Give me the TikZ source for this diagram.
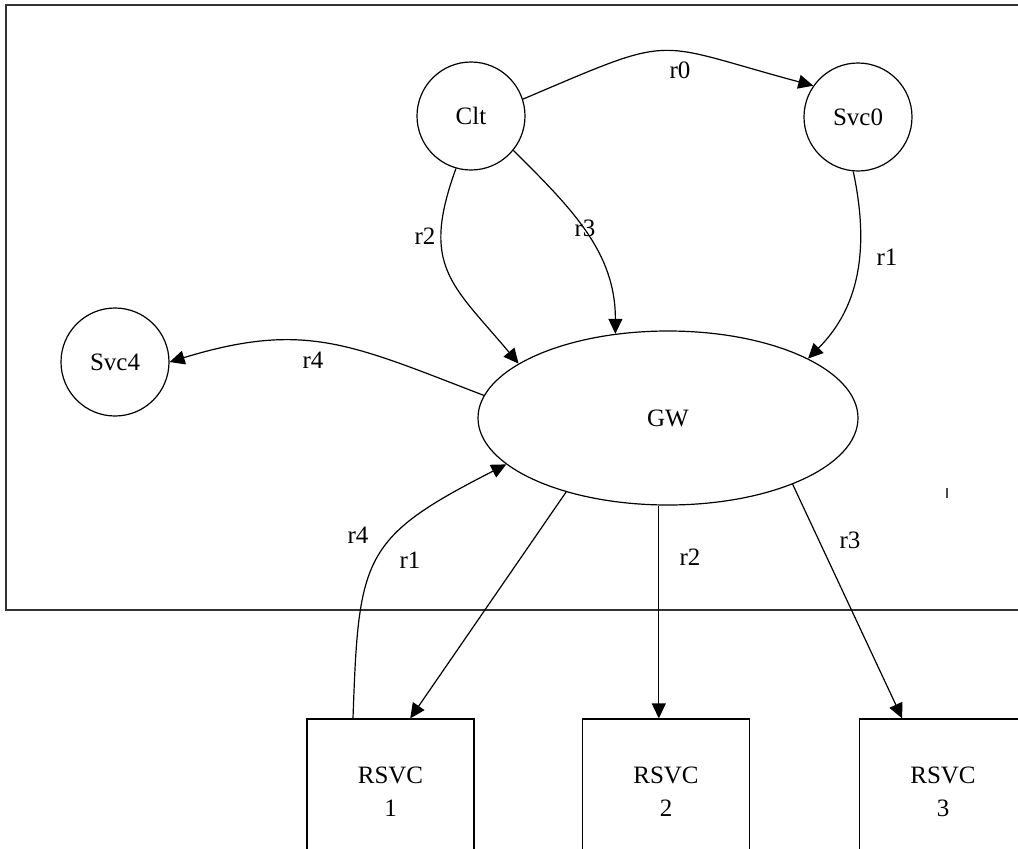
\documentclass[tikz,border=0pt]{standalone}
\usepackage{fontspec}
\setmainfont{Liberation Serif}
\usepackage{tikz}
\usetikzlibrary{shapes.geometric,arrows.meta}
\tikzstyle{service} = 
[
	circle, 
	minimum size = 108pt, 
	inner sep = 0pt, 
	text centered, 
	draw=black, 
	line width=1.2pt
]
\tikzstyle{gateway} = 
	[
		ellipse, 
		minimum width=380pt, 
		minimum height=174pt, 
		text centered,
		draw=black, 
		line width=1.2pt
	]
\tikzstyle{backend} = 
	[
		rectangle, 
		minimum width=167pt, 
		minimum height=146pt, 
		align=center,
		draw=black, 
		line width=1.2pt
	]
\tikzstyle{lbl} = [inner sep=0pt]
\tikzstyle{arrow} = [line width=1.2pt,-{Triangle[length=15pt,width=14pt]}]

\begin{document}
\begin{tikzpicture}[x=1pt,y=1pt,font=\fontsize{25}{33}\selectfont]
	\useasboundingbox (0,0) rectangle (1018,-849);
	\clip (0,0) rectangle (1018,-849);

	% frame
	\draw [line width=2.2pt, black!80] (1030,-5) -- (6,-5) -- (6,-610) -- (1030,-610);
	\draw [line width=1.5pt, black!70] (947,-488) -- (947,-498);

	\node
	(Clt)
	[service]
	at (471,-116)
	{Clt};

	\node
	(Svc0)
	[service]
	at (858,-117)
	{Svc0};

	\node
	(Svc4)
	[service]
	at (115,-362)
	{Svc4};

	\node
	(GW)
	[gateway]
	at (668,-418)
	{GW};

	\node
	(RSVC1)
	[backend]
	at (390.5,-792)
	{RSVC\\1};

	\node
	(RSVC2)
	[backend]
	at (666,-792)
	{RSVC\\2};

	\node
	(RSVC3)
	[backend]
	at (943,-792)
	{RSVC\\3};

	\draw [arrow] (Clt.18) to [out=23, in=165, looseness=1.5] (Svc0.145)
		node [lbl] at (680,-70) {r0};
	\draw [arrow] (Svc0.-95) to [out=-78, in=45] (GW.23.2)
		node [lbl] at (887,-257) {r1};
	\draw [arrow] (Clt.-106) to [out=-110, in=130, looseness=1.3] (GW.160.9)
		node [lbl] at (425,-236) {r2};
	\draw [arrow] (Clt.-39) to [out=-45, in=90] (GW.122.6)
		node [lbl] at (585,-228) {r3};
	\draw [arrow] (GW.173.8) to [out=159, in=17, looseness=1.15] (Svc4.east)
		node [lbl] at (313,-360) {r4};
	\draw [arrow] (RSVC1.117.2) to [out=88, in=-153, looseness=1.4] (GW.196.5)
		node [lbl] at (358,-535) {r4};
	\draw [arrow] (GW.-144.3) -- (RSVC1.75.8)
		node [lbl] at (410,-560) {r1};
	\draw [arrow] (GW.-96.6) -- (GW.-96.6 |- RSVC2.north)
		node [lbl] at (690,-557) {r2};
	\draw [arrow] (GW.-28.8) -- (RSVC3.119.3)
		node [lbl] at (850,-540) {r3};

\end{tikzpicture}
\end{document}
